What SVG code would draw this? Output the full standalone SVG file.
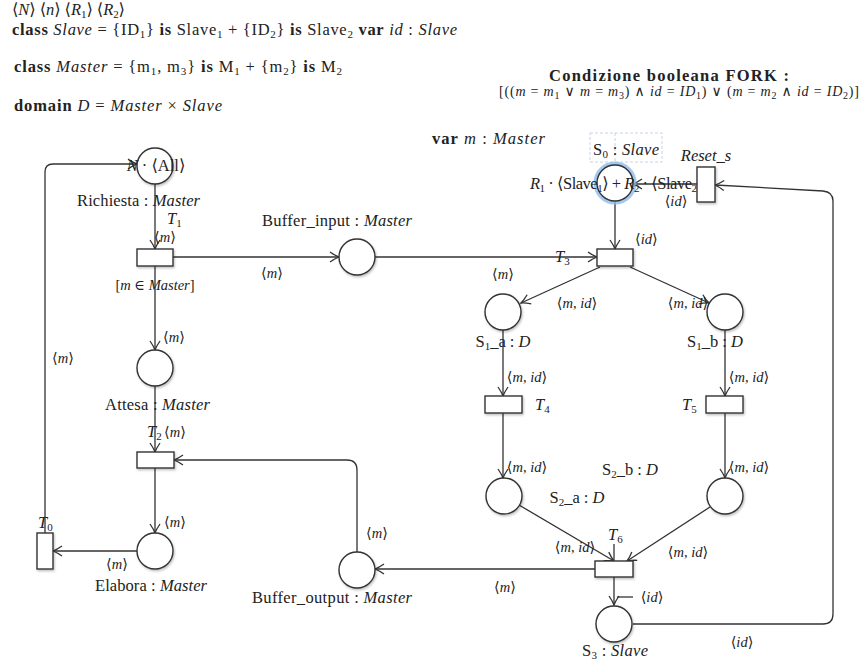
<svg xmlns="http://www.w3.org/2000/svg" width="862" height="664" viewBox="0 0 862 664">
<defs>
<style>
text{font-family:"Liberation Serif","DejaVu Serif",serif;font-size:16.5px;fill:#222}
.s{font-size:14.5px}
.f{font-size:14px}
.m{text-anchor:middle}
.i{font-style:italic}
.b{font-weight:bold}
.node{fill:#fff;stroke:#333;stroke-width:1.4;filter:url(#sh)}
.c path{fill:none;stroke:#333;stroke-width:1.3;marker-end:url(#ar)}
.c path.n{marker-end:none}
</style>
<marker id="ar" markerUnits="userSpaceOnUse" markerWidth="14" markerHeight="14" refX="10" refY="6" orient="auto">
<path d="M1,1 Q6,4.5 10,6 Q6,7.5 1,11" fill="none" stroke="#333" stroke-width="1.3"/>
</marker>
<filter id="sh" x="-30%" y="-30%" width="160%" height="160%">
<feDropShadow dx="1" dy="1.5" stdDeviation="1.2" flood-color="#000" flood-opacity="0.25"/>
</filter>
</defs>
<rect width="862" height="664" fill="#fff"/>

<g id="header">
<text x="12" y="15" textLength="113" lengthAdjust="spacing">⟨<tspan class="i">N</tspan>⟩  ⟨<tspan class="i">n</tspan>⟩  ⟨<tspan class="i">R</tspan><tspan dy="3" font-size="11">1</tspan><tspan dy="-3">⟩ ⟨</tspan><tspan class="i">R</tspan><tspan dy="3" font-size="11">2</tspan><tspan dy="-3">⟩</tspan></text>
<text x="12" y="35" textLength="445" lengthAdjust="spacing"><tspan class="b">class</tspan> <tspan class="i">Slave</tspan> = {ID<tspan dy="3" font-size="11">1</tspan><tspan dy="-3">} </tspan><tspan class="b">is</tspan> Slave<tspan dy="3" font-size="11">1</tspan><tspan dy="-3"> + {ID</tspan><tspan dy="3" font-size="11">2</tspan><tspan dy="-3">} </tspan><tspan class="b">is</tspan> Slave<tspan dy="3" font-size="11">2</tspan><tspan dy="-3">  </tspan><tspan class="b">var</tspan> <tspan class="i">id</tspan> : <tspan class="i">Slave</tspan></text>
<text x="14" y="72" textLength="328" lengthAdjust="spacing"><tspan class="b">class</tspan> <tspan class="i">Master</tspan> = {m<tspan dy="3" font-size="11">1</tspan><tspan dy="-3">, m</tspan><tspan dy="3" font-size="11">3</tspan><tspan dy="-3">} </tspan><tspan class="b">is</tspan> M<tspan dy="3" font-size="11">1</tspan><tspan dy="-3"> + {m</tspan><tspan dy="3" font-size="11">2</tspan><tspan dy="-3">} </tspan><tspan class="b">is</tspan> M<tspan dy="3" font-size="11">2</tspan></text>
<text x="14" y="111" textLength="208" lengthAdjust="spacing"><tspan class="b">domain</tspan> <tspan class="i">D</tspan> = <tspan class="i">Master</tspan> × <tspan class="i">Slave</tspan></text>
<text x="549" y="81" class="b" textLength="240" lengthAdjust="spacing">Condizione booleana FORK :</text>
<text x="499" y="96" class="f" textLength="360" lengthAdjust="spacing">[((<tspan class="i">m</tspan> = <tspan class="i">m</tspan><tspan dy="3" font-size="10">1</tspan><tspan dy="-3"> ∨ </tspan><tspan class="i">m</tspan> = <tspan class="i">m</tspan><tspan dy="3" font-size="10">3</tspan><tspan dy="-3">) ∧ </tspan><tspan class="i">id</tspan> = <tspan class="i">ID</tspan><tspan dy="3" font-size="10">1</tspan><tspan dy="-3">) ∨ (</tspan><tspan class="i">m</tspan> = <tspan class="i">m</tspan><tspan dy="3" font-size="10">2</tspan><tspan dy="-3"> ∧ </tspan><tspan class="i">id</tspan> = <tspan class="i">ID</tspan><tspan dy="3" font-size="10">2</tspan><tspan dy="-3">)]</tspan></text>
<text x="432" y="144" textLength="113" lengthAdjust="spacing"><tspan class="b">var</tspan> <tspan class="i">m</tspan> : <tspan class="i">Master</tspan></text>
</g>

<g id="connectors" class="c">
<path d="M45,533 V172 Q45,164 53,164 H137"/>
<path d="M155,184 V249"/>
<path d="M173,257 H339"/>
<path d="M375,257 H597"/>
<path d="M155,266 V350"/>
<path d="M155,386 V452"/>
<path d="M155,468 V533"/>
<path d="M137,551 H53"/>
<path d="M615,201 V249"/>
<path d="M697,184 H633"/>
<path d="M600,267 L521,303"/>
<path d="M630,267 L709,303"/>
<path d="M503,330 V396"/>
<path d="M725,330 V396"/>
<path d="M503,413 V478"/>
<path d="M725,413 V478"/>
<path d="M519,505 L614,561"/>
<path d="M710,507 L627,561"/>
<path d="M595,569 H375"/>
<path d="M357,552 V470 Q357,460 347,460 H174"/>
<path d="M614,577 V605"/>
<path d="M633,624 H823 Q833,624 833,614 V201 Q833,192 823,191 L715,185"/>
<path class="n" d="M614,544 V560"/>
<path class="n" d="M617,597 H633"/>
</g>

<g id="Richiesta"><circle class="node" cx="155" cy="166" r="18"/>
<text x="156" y="171" class="m"><tspan class="i">N</tspan> · ⟨All⟩</text>
<text x="77" y="206" textLength="123" lengthAdjust="spacing">Richiesta : <tspan class="i">Master</tspan></text></g>

<g id="T1"><rect class="node" x="137" y="249" width="36" height="17"/>
<text x="167" y="224" class="i">T<tspan dy="3" font-size="11" font-style="normal">1</tspan></text>
<text x="165" y="242" class="m s">⟨<tspan class="i">m</tspan>⟩</text>
<text x="155" y="290" class="m s">[<tspan class="i">m</tspan> ∈ <tspan class="i">Master</tspan>]</text>
<text x="272" y="278" class="m s">⟨<tspan class="i">m</tspan>⟩</text></g>

<g id="Buffer_input"><circle class="node" cx="357" cy="257" r="18"/>
<text x="262" y="226" textLength="150" lengthAdjust="spacing">Buffer_input : <tspan class="i">Master</tspan></text>
<text x="503" y="279" class="m s">⟨<tspan class="i">m</tspan>⟩</text></g>

<g id="T3"><rect class="node" x="597" y="249" width="36" height="17"/>
<text x="555" y="262" class="i">T<tspan dy="3" font-size="11" font-style="normal">3</tspan></text>
<text x="635" y="244" class="s">⟨<tspan class="i">id</tspan>⟩</text></g>

<g id="S0">
<rect x="590" y="133" width="72" height="29" fill="none" stroke="#b8c8e0" stroke-width="0.8" stroke-dasharray="3,2"/>
<line x1="615" y1="133" x2="615" y2="162" stroke="#b8c8e0" stroke-width="0.8" stroke-dasharray="3,2"/>
<circle cx="615" cy="183" r="19" fill="none" stroke="#8dbbea" stroke-width="5" opacity="0.8"/>
<circle cx="615" cy="183" r="18" fill="#fff" stroke="#333" stroke-width="1.4"/>
<text x="593" y="155" textLength="66" lengthAdjust="spacing">S<tspan dy="3" font-size="11">0</tspan><tspan dy="-3"> : </tspan><tspan class="i">Slave</tspan></text>
<text x="530" y="189" textLength="173" lengthAdjust="spacing"><tspan class="i">R</tspan><tspan dy="3" font-size="11">1</tspan><tspan dy="-3"> · ⟨Slave</tspan><tspan dy="3" font-size="11">1</tspan><tspan dy="-3">⟩ + </tspan><tspan class="i">R</tspan><tspan dy="3" font-size="11">2</tspan><tspan dy="-3"> · ⟨Slave</tspan><tspan dy="3" font-size="11">2</tspan><tspan dy="-3">⟩</tspan></text>
<text x="676" y="206" class="m s">⟨<tspan class="i">id</tspan>⟩</text></g>

<g id="Reset_s"><rect class="node" x="697" y="167" width="18" height="35"/>
<text x="706" y="161" class="m i">Reset_s</text></g>

<g id="S1_a"><circle class="node" cx="503" cy="312" r="18"/>
<text x="577" y="308" class="m s">⟨<tspan class="i">m</tspan>, <tspan class="i">id</tspan>⟩</text>
<text x="503" y="347" class="m">S<tspan dy="3" font-size="11">1</tspan><tspan dy="-3">_a : </tspan><tspan class="i">D</tspan></text>
<text x="527" y="382" class="m s">⟨<tspan class="i">m</tspan>, <tspan class="i">id</tspan>⟩</text></g>

<g id="S1_b"><circle class="node" cx="725" cy="312" r="18"/>
<text x="688" y="308" class="m s">⟨<tspan class="i">m</tspan>, <tspan class="i">id</tspan>⟩</text>
<text x="715" y="347" class="m">S<tspan dy="3" font-size="11">1</tspan><tspan dy="-3">_b : </tspan><tspan class="i">D</tspan></text>
<text x="749" y="382" class="m s">⟨<tspan class="i">m</tspan>, <tspan class="i">id</tspan>⟩</text></g>

<g id="T4"><rect class="node" x="485" y="396" width="37" height="17"/>
<text x="535" y="410" class="i">T<tspan dy="3" font-size="11" font-style="normal">4</tspan></text>
<text x="527" y="472" class="m s">⟨<tspan class="i">m</tspan>, <tspan class="i">id</tspan>⟩</text></g>

<g id="T5"><rect class="node" x="706" y="396" width="37" height="17"/>
<text x="682" y="410" class="i">T<tspan dy="3" font-size="11" font-style="normal">5</tspan></text>
<text x="749" y="472" class="m s">⟨<tspan class="i">m</tspan>, <tspan class="i">id</tspan>⟩</text></g>

<g id="S2_a"><circle class="node" cx="504" cy="496" r="18"/>
<text x="577" y="503" class="m">S<tspan dy="3" font-size="11">2</tspan><tspan dy="-3">_a : </tspan><tspan class="i">D</tspan></text>
<text x="575" y="552" class="m s">⟨<tspan class="i">m</tspan>, <tspan class="i">id</tspan>⟩</text></g>

<g id="S2_b"><circle class="node" cx="725" cy="496" r="18"/>
<text x="630" y="475" class="m">S<tspan dy="3" font-size="11">2</tspan><tspan dy="-3">_b : </tspan><tspan class="i">D</tspan></text>
<text x="688" y="557" class="m s">⟨<tspan class="i">m</tspan>, <tspan class="i">id</tspan>⟩</text></g>

<g id="T6"><rect class="node" x="595" y="561" width="38" height="16"/>
<text x="608" y="540" class="i">T<tspan dy="3" font-size="11" font-style="normal">6</tspan></text>
<text x="505" y="592" class="m s">⟨<tspan class="i">m</tspan>⟩</text>
<text x="652" y="602" class="m s">⟨<tspan class="i">id</tspan>⟩</text></g>

<g id="S3"><circle class="node" cx="614" cy="624" r="18"/>
<text x="582" y="656" textLength="66" lengthAdjust="spacing">S<tspan dy="3" font-size="11">3</tspan><tspan dy="-3"> : </tspan><tspan class="i">Slave</tspan></text>
<text x="742" y="647" class="m s">⟨<tspan class="i">id</tspan>⟩</text></g>

<g id="Buffer_output"><circle class="node" cx="357" cy="570" r="18"/>
<text x="252" y="603" textLength="160" lengthAdjust="spacing">Buffer_output : <tspan class="i">Master</tspan></text>
<text x="377" y="538" class="m s">⟨<tspan class="i">m</tspan>⟩</text></g>

<g id="Attesa"><circle class="node" cx="155" cy="368" r="18"/>
<text x="174" y="342" class="m s">⟨<tspan class="i">m</tspan>⟩</text>
<text x="105" y="410" textLength="105" lengthAdjust="spacing">Attesa : <tspan class="i">Master</tspan></text></g>

<g id="T2"><rect class="node" x="137" y="452" width="37" height="16"/>
<text x="147" y="437" class="i">T<tspan dy="3" font-size="11" font-style="normal">2</tspan></text>
<text x="175" y="437" class="m s">⟨<tspan class="i">m</tspan>⟩</text></g>

<g id="Elabora"><circle class="node" cx="155" cy="551" r="18"/>
<text x="175" y="527" class="m s">⟨<tspan class="i">m</tspan>⟩</text>
<text x="117" y="569" class="m s">⟨<tspan class="i">m</tspan>⟩</text>
<text x="95" y="591" textLength="112" lengthAdjust="spacing">Elabora : <tspan class="i">Master</tspan></text></g>

<g id="T0"><rect class="node" x="37" y="533" width="16" height="36"/>
<text x="38" y="528" class="i">T<tspan dy="3" font-size="11" font-style="normal">0</tspan></text>
<text x="63" y="363" class="m s">⟨<tspan class="i">m</tspan>⟩</text></g>
</svg>
